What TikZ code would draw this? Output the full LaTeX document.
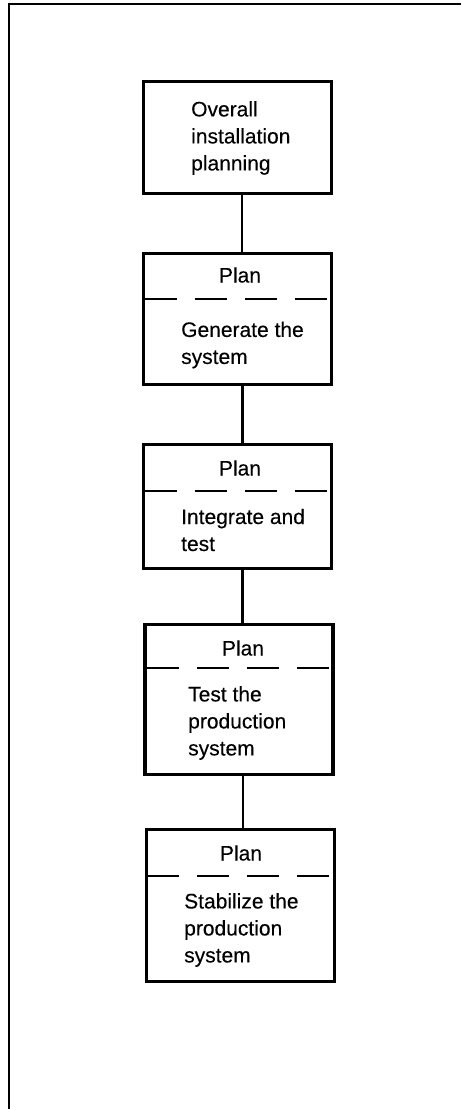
\documentclass[tikz,border=0pt]{standalone}
\usepackage{fontspec}
\setmainfont{Liberation Sans}[BoldFont=Liberation Sans,BoldFeatures={FakeBold=0.25}]
\usetikzlibrary{positioning,calc}

\tikzset{
  stepbox/.style={draw,line width=3.3pt,minimum width=188pt,inner sep=0pt},
  boxtext/.style={anchor=west,align=left,inner sep=0pt,font=\fontsize{21}{27}\selectfont\bfseries},
  plantext/.style={inner sep=0pt,font=\fontsize{21}{24}\selectfont\bfseries},
  divider/.style={line width=2.2pt,dash pattern=on 32pt off 18pt},
  link/.style={line width=2.2pt}
}

\begin{document}
\begin{tikzpicture}[x=1pt,y=-1pt]
  \useasboundingbox (0,0) rectangle (461,1109);
  % frame
  \draw[line width=2.2pt] (9,1109) -- (9,4) -- (461,4);

  % overall planning
  \node[stepbox,minimum height=112pt] (b1) at (237.5,137.5) {};
  \node[boxtext] (t1) at (191,138) {Overall\\installation\\planning};

  % generate
  \node[stepbox,minimum height=131pt] (b2) at (237.5,319) {};
  \node[plantext] (p2) at (240,275) {Plan};
  \draw[divider] (145,299) -- (329,299);
  \node[boxtext] (t2) at (181,345) {Generate the\\system};

  % integrate
  \node[stepbox,minimum height=124pt] (b3) at (237.5,506.5) {};
  \node[plantext] (p3) at (240,468) {Plan};
  \draw[divider] (145,491) -- (329,491);
  \node[boxtext] (t3) at (181,530) {Integrate and\\test};

  % test production
  \node[stepbox,minimum height=150pt] (b4) at (239,699.5) {};
  \node[plantext] (p4) at (243,648) {Plan};
  \draw[divider] (147,668) -- (329,668);
  \node[boxtext] (t4) at (188,723) {Test the\\production\\system};

  % stabilize
  \node[stepbox,minimum height=152pt] (b5) at (240.5,905.5) {};
  \node[plantext] (p5) at (241,853) {Plan};
  \draw[divider] (147,876) -- (329,876);
  \node[boxtext] (t5) at (184,930) {Stabilize the\\production\\system};

  % links
  \draw[link] ([xshift=4.5pt]b1.south) -- ([xshift=4.5pt]b2.north);
  \draw[link] ([xshift=5pt]b2.south) -- ([xshift=5pt]b3.north);
  \draw[link] ([xshift=5pt]b3.south) -- ([xshift=3.5pt]b4.north);
  \draw[link] ([xshift=4pt]b4.south) -- ([xshift=2.5pt]b5.north);
\end{tikzpicture}
\end{document}
